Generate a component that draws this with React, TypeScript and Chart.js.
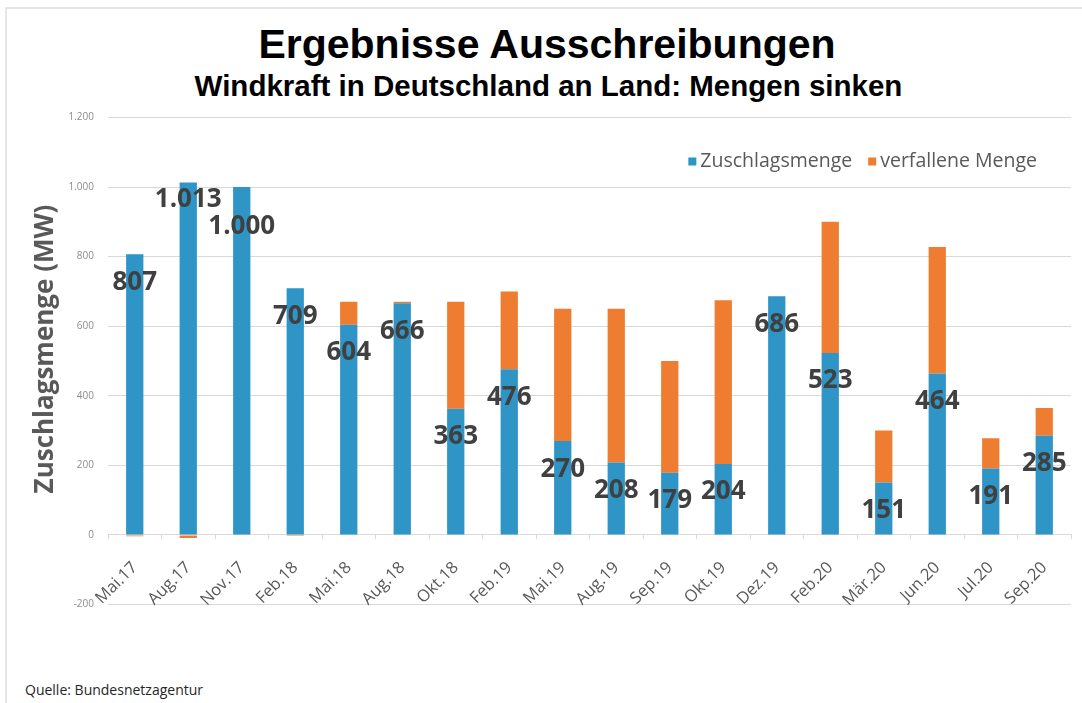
import React, { useEffect, useRef } from 'react';
import { Chart, registerables } from 'chart.js';

Chart.register(...registerables);

const categories = ['Mai.17', 'Aug.17', 'Nov.17', 'Feb.18', 'Mai.18', 'Aug.18', 'Okt.18', 'Feb.19', 'Mai.19', 'Aug.19', 'Sep.19', 'Okt.19', 'Dez.19', 'Feb.20', 'Mär.20', 'Jun.20', 'Jul.20', 'Sep.20'];
const zuschlagsmenge = [807, 1013, 1000, 709, 604, 666, 363, 476, 270, 208, 179, 204, 686, 523, 151, 464, 191, 285];
const verfalleneMenge = [-4, -9, 0, -3, 66, 4, 307, 224, 380, 442, 321, 471, 0, 377, 149, 364, 87, 80];
const yMin = -200;
const yMax = 1200;
const yStep = 200;

const seriesNames = ['Zuschlagsmenge', 'verfallene Menge'];
const BLUE = '#2E95C6';
const ORANGE = '#EE7D31';

const fmt = (v: number) => String(v).replace(/\B(?=(\d{3})+(?!\d))/g, '.');

// small manual vertical nudges for overlapping labels (px)
const labelNudge: Record<number, number> = { 1: -11, 2: 11 };

const overlayPlugin = {
  id: 'overlay',
  afterDatasetsDraw(chart: any) {
    const { ctx, chartArea } = chart;
    // data labels
    const meta = chart.getDatasetMeta(0);
    ctx.save();
    ctx.font = 'bold 26px "Open Sans"';
    ctx.fillStyle = '#404040';
    ctx.textAlign = 'center';
    ctx.textBaseline = 'alphabetic';
    meta.data.forEach((el: any, i: number) => {
      ctx.fillText(fmt(zuschlagsmenge[i]), el.x, el.y + 35.5 + (labelNudge[i] || 0));
    });
    ctx.restore();

    // y axis title
    ctx.save();
    ctx.font = 'bold 26px "Open Sans"';
    ctx.fillStyle = '#595959';
    ctx.textAlign = 'center';
    ctx.textBaseline = 'alphabetic';
    ctx.translate(chartArea.left - 55, (chartArea.top + chartArea.bottom) / 2 - 12);
    ctx.rotate(-Math.PI / 2);
    ctx.fillText('Zuschlagsmenge (MW)', 0, 0);
    ctx.restore();

    // legend (inside plot area, top right)
    ctx.save();
    ctx.font = '19.5px "Open Sans"';
    ctx.textBaseline = 'middle';
    ctx.textAlign = 'left';
    const colors = [BLUE, ORANGE];
    const box = 8;
    const gap = 4;
    const itemGap = 16;
    const widths = seriesNames.map((n) => ctx.measureText(n).width);
    const total = widths.reduce((a, w) => a + box + gap + w, 0) + itemGap;
    let x = chartArea.right - 34 - total;
    const y = chartArea.top + 44;
    seriesNames.forEach((n, i) => {
      ctx.fillStyle = colors[i];
      ctx.fillRect(x, y - box / 2, box, box);
      x += box + gap;
      ctx.fillStyle = '#595959';
      ctx.fillText(n, x, y);
      x += widths[i] + itemGap;
    });
    ctx.restore();
  },
};

export default function App() {
  const ref = useRef<HTMLCanvasElement>(null);

  useEffect(() => {
    if (!ref.current) return;
    const chart = new Chart(ref.current, {
      type: 'bar',
      data: {
        labels: categories,
        datasets: [
          { label: seriesNames[0], data: zuschlagsmenge, backgroundColor: BLUE, barPercentage: 0.323, categoryPercentage: 1 },
          { label: seriesNames[1], data: verfalleneMenge, backgroundColor: ORANGE, barPercentage: 0.323, categoryPercentage: 1 },
        ],
      },
      options: {
        responsive: false,
        animation: false,
        layout: { padding: { left: 8, right: 11, top: 117.5, bottom: 98.5 } },
        plugins: {
          legend: { display: false },
          title: { display: false },
          tooltip: { enabled: false },
        },
        scales: {
          x: {
            stacked: true,
            position: { y: 0 } as any,
            offset: true,
            grid: { display: true, drawOnChartArea: false, drawTicks: true, tickLength: 4, color: '#d9d9d9', offset: true },
            border: { display: true, color: '#d9d9d9', width: 1 },
            ticks: {
              autoSkip: false,
              minRotation: 45,
              maxRotation: 45,
              padding: 19,
              color: '#595959',
              font: { family: 'Open Sans', size: 16.5 },
            },
          },
          y: {
            stacked: true,
            min: yMin,
            max: yMax,
            grid: { color: '#d9d9d9', drawTicks: false },
            border: { display: false },
            ticks: {
              stepSize: yStep,
              padding: 14,
              color: '#8c8c8c',
              font: { family: 'Open Sans', size: 10 },
              callback: (v: any) => fmt(Number(v)),
            },
            afterFit: (s: any) => {
              s.width = 100;
            },
          },
        },
      },
      plugins: [overlayPlugin],
    });
    return () => chart.destroy();
  }, []);

  return (
    <div style={{ position: 'absolute', left: 0, top: 0, width: 1082, height: 703, background: '#fff', overflow: 'hidden' }}>
      <div style={{ position: 'absolute', left: 5, top: 7, right: 0, bottom: 0, borderTop: '2px solid #e6e6e6', borderLeft: '2px solid #e6e6e6' }} />
      <div style={{ position: 'absolute', left: 0, width: 1094, top: 24, textAlign: 'center', font: 'bold 41px "Liberation Sans", Arial, sans-serif', lineHeight: '41px', color: '#000', whiteSpace: 'nowrap' }}>
        Ergebnisse Ausschreibungen
      </div>
      <div style={{ position: 'absolute', left: 0, width: 1097, top: 71, textAlign: 'center', font: 'bold 29.5px "Liberation Sans", Arial, sans-serif', lineHeight: '29.5px', color: '#000', whiteSpace: 'nowrap' }}>
        Windkraft in Deutschland an Land: Mengen sinken
      </div>
      <div style={{ position: 'absolute', left: 25, top: 681, font: '14px "Open Sans", sans-serif', lineHeight: '18px', color: '#262626', whiteSpace: 'nowrap' }}>
        Quelle: Bundesnetzagentur
      </div>
      <canvas ref={ref} width={1082} height={703} style={{ position: 'absolute', left: 0, top: 0, width: 1082, height: 703 }} />
    </div>
  );
}
